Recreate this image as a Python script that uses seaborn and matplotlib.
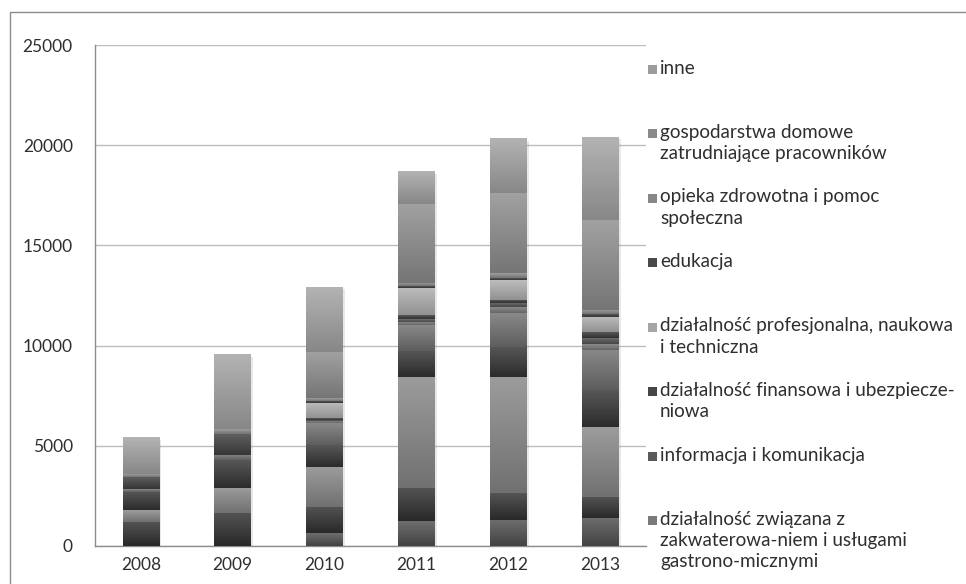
import numpy as np
import pandas as pd
import matplotlib
matplotlib.use("Agg")
import matplotlib.pyplot as plt
import seaborn as sns
from matplotlib.patches import Rectangle
from matplotlib import patheffects as pe
from matplotlib.colors import to_rgb

# ---- data (stack order: bottom first) ----
years = ["2008", "2009", "2010", "2011", "2012", "2013"]

rolnictwo = [0, 0, 630, 1230, 1300, 1400]
przetworstwo = [1210, 1660, 1330, 1660, 1330, 1050]
budownictwo = [590, 1250, 2000, 5560, 5820, 3490]
handel = [910, 1380, 1080, 1300, 1500, 1840]
transport = [120, 250, 1080, 1270, 1660, 2000]
zakwaterowanie = [0, 0, 130, 170, 300, 300]
informacja = [0, 0, 60, 140, 200, 300]
finansowa = [0, 0, 60, 200, 170, 300]
profesjonalna = [0, 0, 780, 1360, 990, 750]
edukacja = [630, 1050, 100, 100, 120, 150]
opieka = [120, 230, 120, 150, 220, 200]
gospodarstwa = [0, 0, 2330, 3910, 3990, 4490]
inne = [1810, 3710, 3210, 1630, 2710, 4140]

series_labels = [
    "rolnictwo, leśnictwo, łowiectwo\ni rybactwo",
    "przetwórstwo przemysłowe",
    "budownictwo",
    "handel; naprawa pojazdów\nsamochodowych",
    "transport i gospodarka\nmagazynowa",
    "działalność związana z\nzakwaterowa-niem i usługami\ngastrono-micznymi",
    "informacja i komunikacja",
    "działalność finansowa i ubezpiecze-\nniowa",
    "działalność profesjonalna, naukowa\ni techniczna",
    "edukacja",
    "opieka zdrowotna i pomoc\nspołeczna",
    "gospodarstwa domowe\nzatrudniające pracowników",
    "inne",
]
series_values = [rolnictwo, przetworstwo, budownictwo, handel, transport,
                 zakwaterowanie, informacja, finansowa, profesjonalna,
                 edukacja, opieka, gospodarstwa, inne]
series_colors = ["#575757", "#3d3d3d", "#858585", "#404040", "#727272",
                 "#7a7a7a", "#5a5a5a", "#464646", "#a6a6a6",
                 "#4a4a4a", "#878787", "#8a8a8a", "#9c9c9c"]

y_ticks = [0, 5000, 10000, 15000, 20000, 25000]

# ---- figure ----
sns.set_style("white")
plt.rcParams["font.family"] = ["Lato", "DejaVu Sans"]
text_color = "#2f2f2f"

W, H = 966, 584
fig = plt.figure(figsize=(W / 100, H / 100), dpi=100)
ax = fig.add_axes([95 / W, 38 / H, 551 / W, 501 / H])

values = np.array(series_values, dtype=float)
cum = np.cumsum(values, axis=0)
df = pd.DataFrame(cum.T, columns=[f"s{i}" for i in range(len(series_values))])
df["rok"] = years

bar_patches = {}
for i in reversed(range(len(series_values))):
    before = len(ax.patches)
    sns.barplot(data=df, x="rok", y=f"s{i}", order=years, color=series_colors[i],
                saturation=1, width=0.4, linewidth=0, ax=ax, zorder=2)
    bar_patches[i] = ax.patches[before:]
    if i == len(series_values) - 1:
        for p in bar_patches[i]:
            p.set_path_effects([pe.SimplePatchShadow(offset=(1.5, -1.5), alpha=0.15,
                                                     shadow_rgbFace="#666666"),
                                pe.Normal()])

# vertical gradient inside every stacked segment
for i in range(len(series_values)):
    base = np.array(to_rgb(series_colors[i]))
    lo = np.clip(base - 0.08, 0, 1)
    hi = np.clip(base + 0.09, 0, 1)
    t = np.linspace(0, 1, 64)[:, None, None]
    grad = lo[None, None, :] * (1 - t) + hi[None, None, :] * t
    for j, p in enumerate(bar_patches[i]):
        bottom = cum[i - 1][j] if i > 0 else 0.0
        top = cum[i][j]
        if top - bottom <= 0:
            continue
        x0 = p.get_x()
        ax.imshow(grad, extent=[x0, x0 + p.get_width(), bottom, top],
                  origin="lower", aspect="auto", interpolation="bilinear", zorder=3)

ax.set_xlim(-0.5, len(years) - 0.5)
ax.set_ylim(0, 25000)
ax.set_xlabel("")
ax.set_ylabel("")

# grid and axes
ax.set_yticks(y_ticks)
ax.set_yticklabels([str(v) for v in y_ticks])
ax.yaxis.grid(True, color="#bdbdbd", linewidth=1)
ax.set_axisbelow(True)
for s in ["top", "right"]:
    ax.spines[s].set_visible(False)
ax.spines["left"].set_color("#8c8c8c")
ax.spines["bottom"].set_color("#8c8c8c")
ax.spines["left"].set_linewidth(1)
ax.spines["bottom"].set_linewidth(1)
ax.set_xticks(np.arange(-0.5, len(years)), minor=True)
ax.tick_params(axis="x", which="major", length=0, pad=8, labelsize=12.5, colors=text_color)
ax.tick_params(axis="x", which="minor", length=6, color="#8c8c8c", width=1)
ax.tick_params(axis="y", which="major", length=6, color="#8c8c8c", width=1,
               pad=10, labelsize=12.5, labelcolor=text_color)

# legend (top of stack listed first); only entries that fit in the figure
lx_marker = 648
lx_text = 660
first_line_center = 69
step = 64.5
for k, i in enumerate(reversed(range(len(series_values)))):
    yc = first_line_center + k * step
    if yc > H - 50:
        break
    fig.add_artist(Rectangle((lx_marker / W, 1 - (yc + 4.5) / H), 9 / W, 9 / H,
                             transform=fig.transFigure, facecolor=series_colors[i],
                             edgecolor="none"))
    fig.text(lx_text / W, 1 - (yc - 9.5) / H, series_labels[i], ha="left", va="top",
             fontsize=13.6, color=text_color, linespacing=1.3)

# chart area frame
fig.add_artist(Rectangle((10 / W, -0.1), 1.2, (H - 12) / H + 0.1,
                         transform=fig.transFigure, fill=False,
                         edgecolor="#8c8c8c", linewidth=1))

fig.savefig("out.png", dpi=100, facecolor="white")
